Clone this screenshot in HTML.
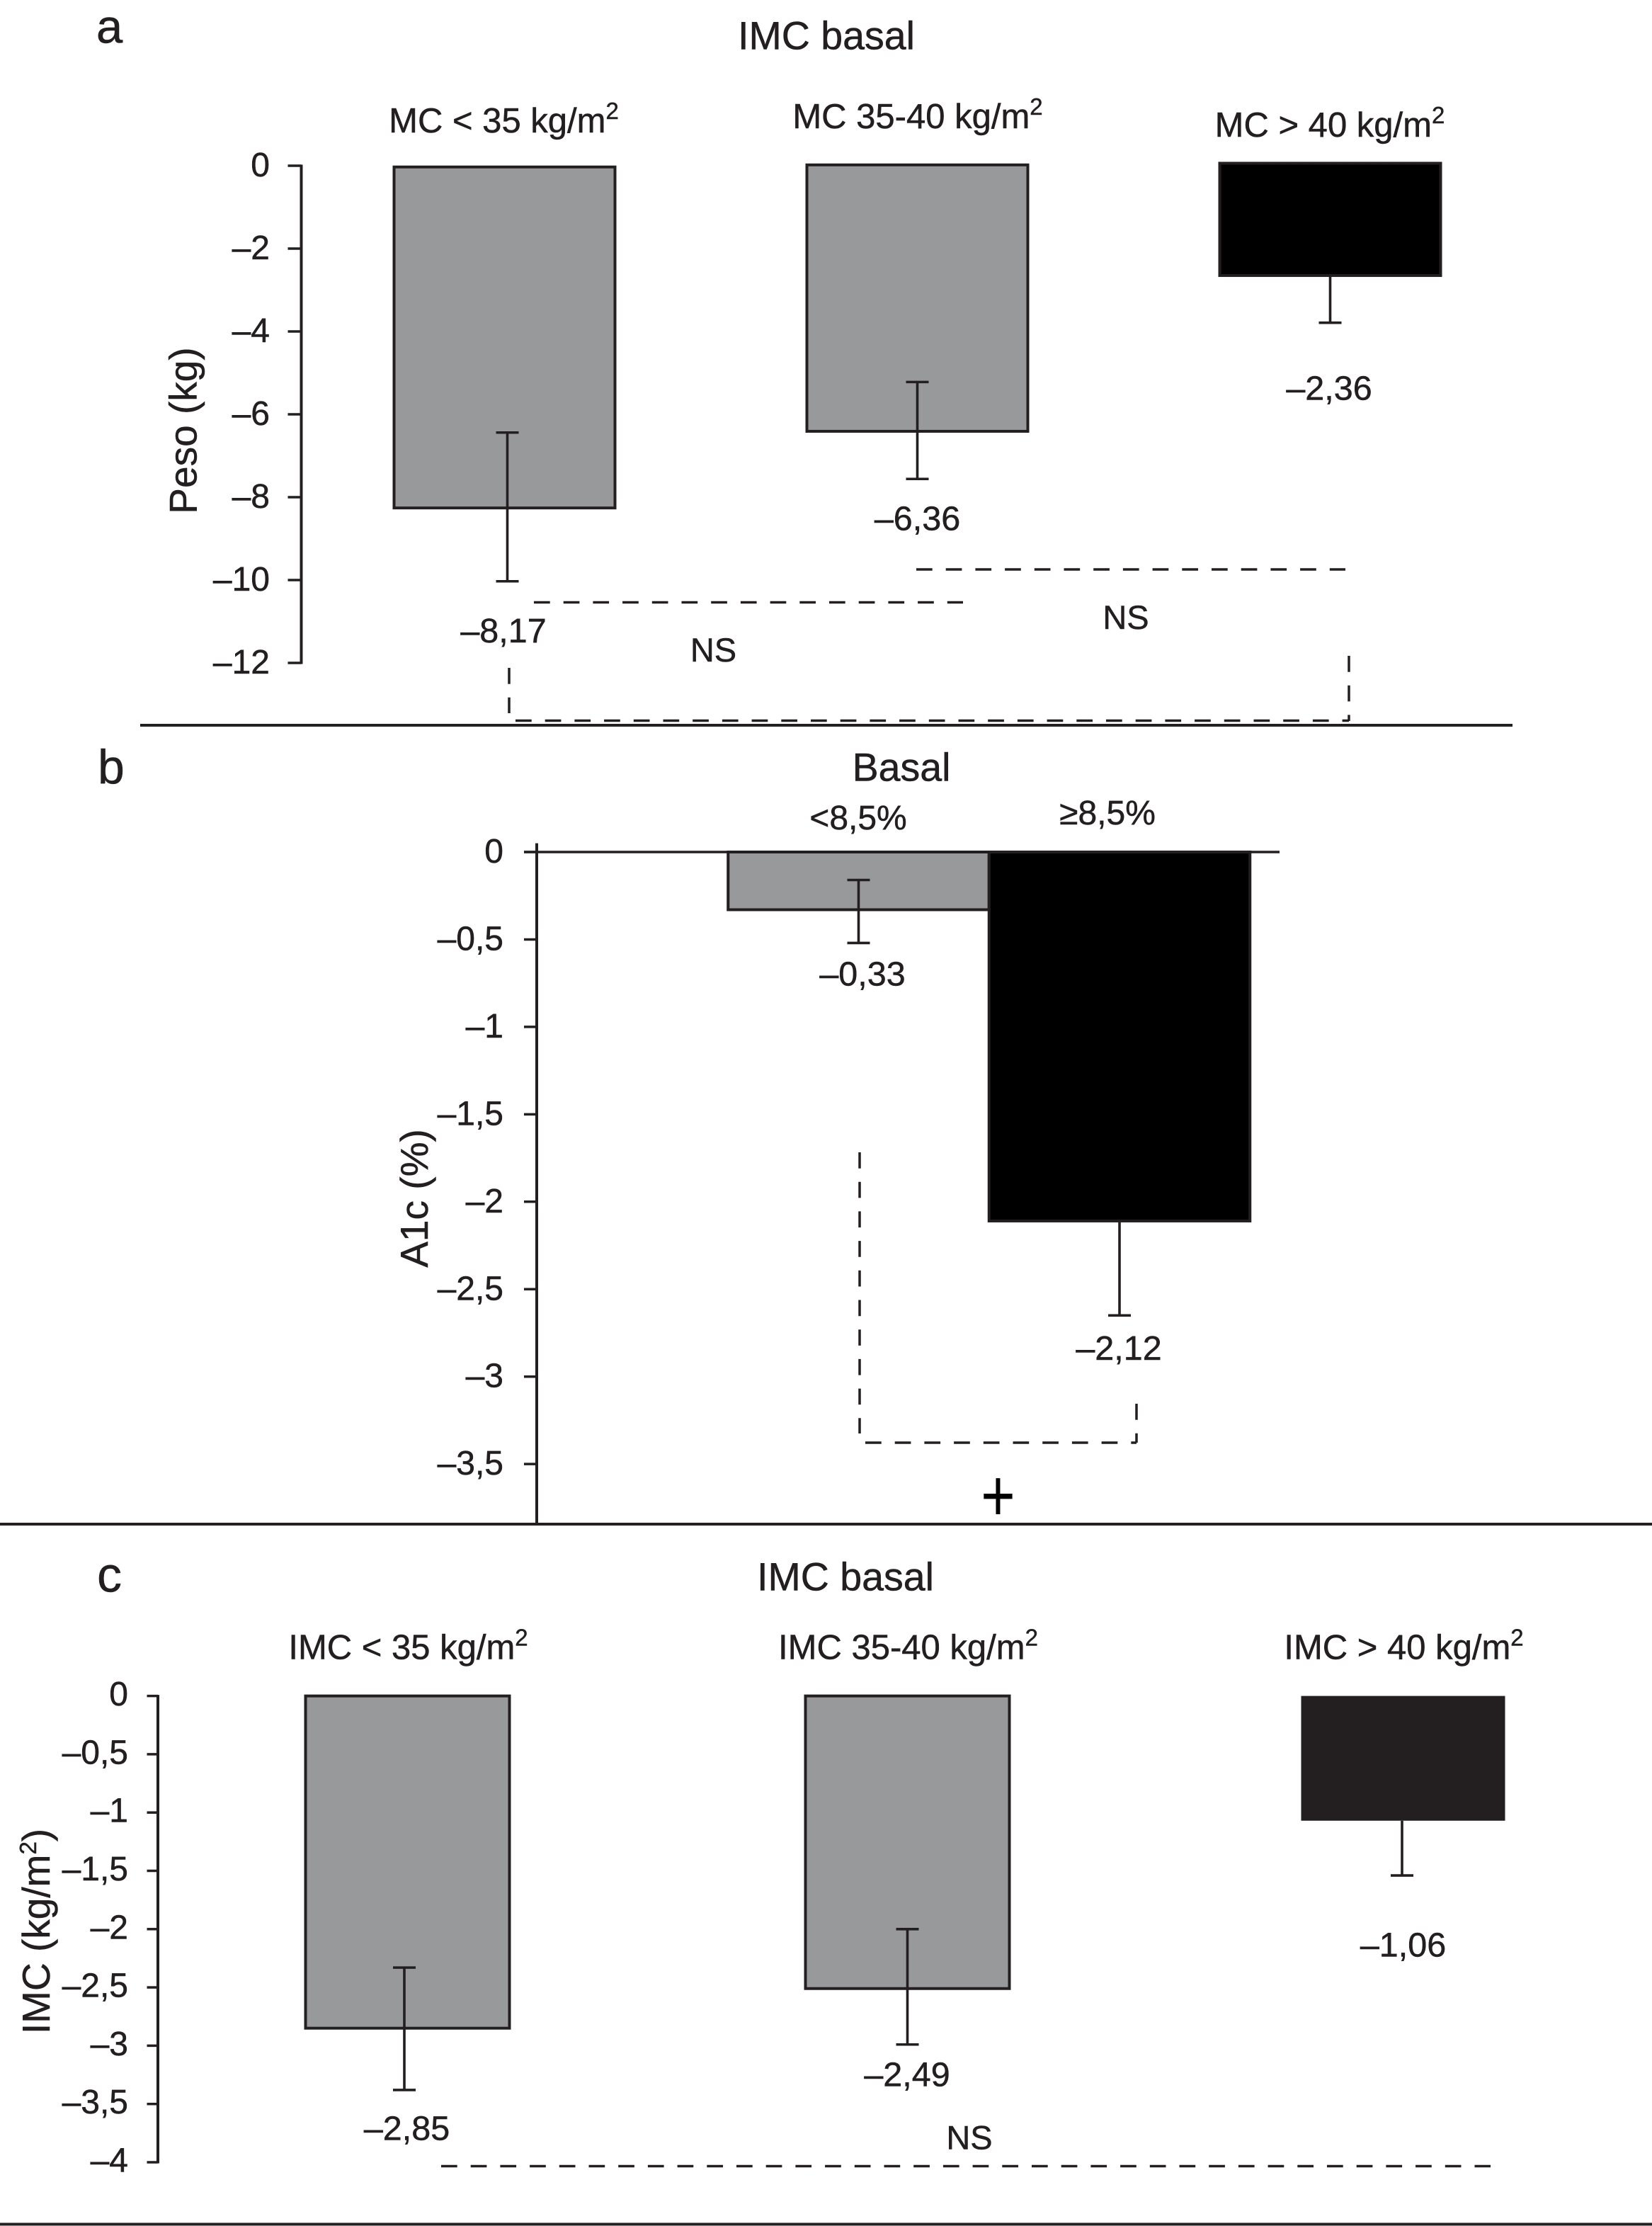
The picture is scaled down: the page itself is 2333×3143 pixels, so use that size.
<!DOCTYPE html>
<html lang="es">
<head>
<meta charset="utf-8">
<title>Peso, A1c e IMC</title>
<style>
html,body{margin:0;padding:0;background:#fff}
svg{display:block}
text{font-family:"Liberation Sans",Arial,sans-serif;fill:#231f20;stroke:#231f20;stroke-width:.5}
</style>
</head>
<body>
<svg id="chart" xmlns="http://www.w3.org/2000/svg" width="2333" height="3143" viewBox="0 0 2333 3143">
  <rect width="2333" height="3143" fill="#fff"/>

  <g id="panel-a">
    <text x="136" y="60.5" font-size="67">a</text>
    <text x="1167" y="69.5" font-size="55.5" text-anchor="middle">IMC basal</text>
    <text x="711.5" y="187" font-size="49" text-anchor="middle">MC &lt; 35 kg/m<tspan font-size="33" dy="-19">2</tspan></text>
    <text x="1296" y="181" font-size="49" text-anchor="middle">MC 35-40 kg/m<tspan font-size="33" dy="-19">2</tspan></text>
    <text x="1878" y="193" font-size="49" text-anchor="middle">MC &gt; 40 kg/m<tspan font-size="33" dy="-19">2</tspan></text>
    <text transform="translate(277.5 608) rotate(-90)" font-size="55" text-anchor="middle">Peso (kg)</text>
    <text x="711" y="907" font-size="48.5" text-anchor="middle">–8,17</text>
    <text x="1295.5" y="748.5" font-size="48.5" text-anchor="middle">–6,36</text>
    <text x="1877" y="564.5" font-size="48.5" text-anchor="middle">–2,36</text>
    <text x="1007.5" y="934" font-size="47" text-anchor="middle">NS</text>
    <text x="1590" y="888" font-size="47" text-anchor="middle">NS</text>
    <g fill="none" stroke="#231f20" stroke-width="3.5" stroke-dasharray="22.7 19">
      <path d="M754 850.5H1360"/>
      <path d="M1294 804H1900"/>
      <path d="M719 943V1007"/>
      <path d="M728 1017.5H1905"/>
      <path d="M1905 926V1018"/>
    </g>
    <line x1="198" x2="2136" y1="1024" y2="1024" stroke="#231f20" stroke-width="4"/>
  </g>

  <g id="panel-b">
    <text x="138" y="1106" font-size="68">b</text>
    <text x="1273" y="1102.5" font-size="55.5" text-anchor="middle">Basal</text>
    <text x="1212" y="1171" font-size="48" text-anchor="middle">&lt;8,5%</text>
    <text x="1564" y="1164" font-size="48" text-anchor="middle">≥8,5%</text>
    <text transform="translate(604 1692) rotate(-90)" font-size="55" text-anchor="middle">A1c (%)</text>
    <text x="1218" y="1391.5" font-size="48.5" text-anchor="middle">–0,33</text>
    <text x="1580" y="1920" font-size="48.5" text-anchor="middle">–2,12</text>
    <g fill="none" stroke="#231f20" stroke-width="3.5" stroke-dasharray="22.7 19">
      <path d="M1214 1627V2024"/>
      <path d="M1222 2037H1605"/>
      <path d="M1605 1982V2037"/>
    </g>
    <text transform="translate(1409.5 2147) scale(1 1.25)" font-size="83" text-anchor="middle" style="fill:#000;stroke:none">+</text>
    <line x1="0" x2="2333" y1="2152" y2="2152" stroke="#231f20" stroke-width="4"/>
  </g>

  <g id="panel-c">
    <text x="137" y="2247.5" font-size="70">c</text>
    <text x="1194" y="2245.5" font-size="55.5" text-anchor="middle">IMC basal</text>
    <text x="576.5" y="2342.5" font-size="49" text-anchor="middle">IMC &lt; 35 kg/m<tspan font-size="33" dy="-19">2</tspan></text>
    <text x="1282.5" y="2342.5" font-size="49" text-anchor="middle">IMC 35-40 kg/m<tspan font-size="33" dy="-19">2</tspan></text>
    <text x="1982.5" y="2342.5" font-size="49" text-anchor="middle">IMC &gt; 40 kg/m<tspan font-size="33" dy="-19">2</tspan></text>
    <text transform="translate(70 2727) rotate(-90)" font-size="55" text-anchor="middle">IMC (kg/m<tspan font-size="33" dy="-19">2</tspan><tspan dy="19">)</tspan></text>
    <text x="574.5" y="3021.5" font-size="48.5" text-anchor="middle">–2,85</text>
    <text x="1281" y="2945.5" font-size="48.5" text-anchor="middle">–2,49</text>
    <text x="1981.5" y="2762.5" font-size="48.5" text-anchor="middle">–1,06</text>
    <text x="1369" y="3034.5" font-size="47" text-anchor="middle">NS</text>
    <path d="M623 3058.5H2105" fill="none" stroke="#231f20" stroke-width="3.5" stroke-dasharray="22.7 19"/>
    <line x1="0" x2="2333" y1="3140.5" y2="3140.5" stroke="#231f20" stroke-width="4"/>
  </g>
</svg>

<script>
// Panel a: weight change (kg)
const pesoTicks = [0, -2, -4, -6, -8, -10, -12];
const pesoTickLabels = ['0', '–2', '–4', '–6', '–8', '–10', '–12'];
const pesoCategories = ['MC < 35', 'MC 35-40', 'MC > 40'];
const pesoBarStart = [-0.03, 0.02, 0.06];
const pesoBarEnd = [-8.26, -6.41, -2.65];
const pesoErrHigh = [-6.44, -5.22, -2.65];
const pesoErrLow = [-10.03, -7.56, -3.79];

// Panel b: A1c change (%)
const a1cTicks = [0, -0.5, -1, -1.5, -2, -2.5, -3, -3.5];
const a1cTickLabels = ['0', '–0,5', '–1', '–1,5', '–2', '–2,5', '–3', '–3,5'];
const a1cCategories = ['<8,5%', '≥8,5%'];
const a1cBarStart = [0, 0];
const a1cBarEnd = [-0.33, -2.11];
const a1cErrHigh = [-0.16, -2.11];
const a1cErrLow = [-0.52, -2.65];

// Panel c: BMI change (kg/m2)
const imcTicks = [0, -0.5, -1, -1.5, -2, -2.5, -3, -3.5, -4];
const imcTickLabels = ['0', '–0,5', '–1', '–1,5', '–2', '–2,5', '–3', '–3,5', '–4'];
const imcCategories = ['IMC < 35', 'IMC 35-40', 'IMC > 40'];
const imcBarStart = [0, 0, 0];
const imcBarEnd = [-2.85, -2.51, -1.07];
const imcErrHigh = [-2.33, -2.0, -1.07];
const imcErrLow = [-3.38, -2.99, -1.54];

const NS = 'http://www.w3.org/2000/svg';
const INK = '#231f20';
const GREY = '#98999b';

const yPeso = v => 234 - v * 58.5;
const xPeso = i => 712.5 + 583 * i;
const errXPeso = i => xPeso(i) + (i === 0 ? 4 : 0);
const yA1c = v => 1203 - v * 246.9;
const xA1c = i => 1212.5 + 368.5 * i;
const errXA1c = i => xA1c(i);
const yImc = v => 2394.6 - v * 164.6;
const xImc = i => 575.5 + 703 * i + (i === 1 ? 3 : 0);
const errXImc = i => xImc(i) + (i === 0 ? -4.5 : i === 2 ? -1.5 : 0);

function make(parent, tag, attrs) {
  const el = document.createElementNS(NS, tag);
  for (const k in attrs) el.setAttribute(k, attrs[k]);
  parent.appendChild(el);
  return el;
}

function drawTicks(parent, ticks, labels, yFn, axisX, tickLeft, labelRight, dy) {
  ticks.forEach((t, i) => {
    const y = yFn(t);
    const tick = make(parent, 'line', {x1: tickLeft, x2: axisX, y1: y, y2: y, stroke: INK, 'stroke-width': 3.5});
    
    
    const label = make(parent, 'text', {x: labelRight, y: y + dy, 'font-size': 48, 'text-anchor': 'end'});
    label.textContent = labels[i];
    
    
  });
}

function drawAxisLine(parent, x, y1, y2) {
  const axis = make(parent, 'line', {x1: x, x2: x, y1: y1, y2: y2, stroke: INK, 'stroke-width': 4});
  
  
}

function drawBars(parent, cats, starts, ends, highs, lows, xFn, errXFn, yFn, width, darkIndex, capHalf, strokeDark) {
  cats.forEach((c, i) => {
    const top = yFn(starts[i]);
    const bottom = yFn(ends[i]);
    const dark = i === darkIndex;
    const bar = make(parent, 'rect', {
      x: xFn(i) - width / 2, y: top, width: width, height: bottom - top,
      fill: dark ? strokeDark.fill : GREY,
      stroke: dark && !strokeDark.stroke ? 'none' : INK,
      'stroke-width': 4
    });
    
    
    bar.setAttribute('aria-label', c);
  });
  cats.forEach((c, i) => {
    const cx = errXFn(i);
    const topCap = i === darkIndex ? '' : 'M' + (cx - capHalf) + ' ' + yFn(highs[i]) + 'H' + (cx + capHalf);
    const err = make(parent, 'path', {
      d: topCap +
         'M' + cx + ' ' + yFn(highs[i]) + 'V' + yFn(lows[i]) +
         'M' + (cx - capHalf) + ' ' + yFn(lows[i]) + 'H' + (cx + capHalf),
      fill: 'none', stroke: INK, 'stroke-width': 3.6
    });
    
    
  });
}

const panelA = document.getElementById('panel-a');
const panelB = document.getElementById('panel-b');
const panelC = document.getElementById('panel-c');

// Panel a
drawAxisLine(panelA, 425.5, yPeso(0) - 1.5, yPeso(-12) + 1.5);
drawTicks(panelA, pesoTicks, pesoTickLabels, yPeso, 425.5, 406.5, 381, 15);
drawBars(panelA, pesoCategories, pesoBarStart, pesoBarEnd, pesoErrHigh, pesoErrLow, xPeso, errXPeso, yPeso, 312, 2, 16, {fill: '#000', stroke: true});

// Panel b
drawAxisLine(panelB, 758, yA1c(0.05), yA1c(-3.84));
drawTicks(panelB, a1cTicks, a1cTickLabels, yA1c, 758, 740, 711, 15);
const zeroLine = make(panelB, 'line', {x1: 740, x2: 1807, y1: yA1c(0), y2: yA1c(0), stroke: INK, 'stroke-width': 3.5});


drawBars(panelB, a1cCategories, a1cBarStart, a1cBarEnd, a1cErrHigh, a1cErrLow, xA1c, errXA1c, yA1c, 368.5, 1, 16, {fill: '#000', stroke: true});

// Panel c
drawAxisLine(panelC, 223, yImc(0) - 1.5, yImc(-4) + 1.5);
drawTicks(panelC, imcTicks, imcTickLabels, yImc, 223, 207.5, 181, 13.5);
drawBars(panelC, imcCategories, imcBarStart, imcBarEnd, imcErrHigh, imcErrLow, xImc, errXImc, yImc, 288, 2, 16, {fill: INK, stroke: false});
</script>
</body>
</html>
